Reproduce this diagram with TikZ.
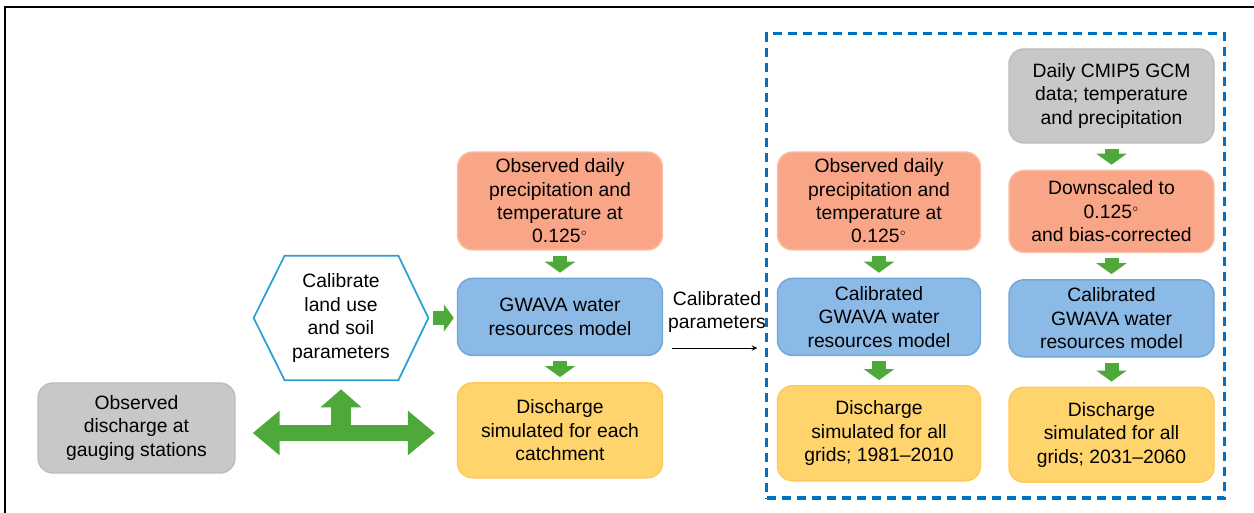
\documentclass[tikz,border=0pt]{standalone}
\usepackage{fontspec}
\setmainfont{Liberation Sans}
\usepackage{amsmath}
\usepackage{xcolor}
\usepackage{tikz}
\usetikzlibrary{arrows.meta,positioning,fit,calc}

\definecolor{obsorange}{RGB}{248,166,135}
\definecolor{obsorangeline}{RGB}{250,192,165}
\definecolor{modelblue}{RGB}{140,186,230}
\definecolor{modelblueline}{RGB}{112,166,218}
\definecolor{simyellow}{RGB}{255,212,108}
\definecolor{simyellowline}{RGB}{255,200,90}
\definecolor{datagray}{RGB}{200,200,200}
\definecolor{datagrayline}{RGB}{188,188,188}
\definecolor{flowgreen}{RGB}{78,168,58}
\definecolor{hexblue}{RGB}{42,160,214}
\definecolor{frameblue}{RGB}{0,112,192}

\newcommand{\degsym}{$^{\scriptscriptstyle\circ}$}

\begin{document}
\begin{tikzpicture}[
    node distance=0.54cm,
    box/.style={rectangle, draw, line width=0.8pt, rounded corners=0.3cm, minimum width=4.06cm, align=center,
        inner sep=0pt, font=\fontsize{11}{13.3}\selectfont},
    obsbox/.style={box, fill=obsorange, draw=obsorangeline, minimum height=1.96cm},
    modelbox/.style={box, fill=modelblue, draw=modelblueline, minimum height=1.54cm},
    simbox/.style={box, fill=simyellow, draw=simyellowline, minimum height=1.9cm},
    graybox/.style={box, fill=datagray, draw=datagrayline, minimum height=1.88cm},
    flow/.style={draw=flowgreen, line width=0.28cm, -{Triangle[width=0.6cm, length=0.22cm]},
        shorten <=0.1cm, shorten >=0.1cm},
    thinarrow/.style={->, >=stealth, thin}
]
\useasboundingbox (0,0) rectangle (25.08,-10.26);

% frame of the page
\draw[line width=1.5pt] (0.1,-10.26) -- (0.1,-0.14) -- (25.08,-0.14);

% Calibration part
\node[graybox, minimum width=3.94cm, minimum height=1.8cm] (obsq) at (2.73,-8.56) {Observed\\discharge at\\gauging stations};

\node[font=\fontsize{11}{13.3}\selectfont, align=center, minimum width=3.48cm, minimum height=2.48cm] (calib) at (6.82,-6.36)
    {Calibrate\\land use\\and soil\\parameters};
\draw[hexblue, line width=1pt] (calib.west) -- ($(calib.north west)+(0.62,0)$) -- ($(calib.north east)+(-0.6,0)$)
    -- (calib.east) -- ($(calib.south east)+(-0.6,0)$) -- ($(calib.south west)+(0.62,0)$) -- cycle;

\node[obsbox, minimum width=4.1cm] (obs1) at (11.2,-4.02) {Observed daily\\precipitation and\\temperature at\\0.125\degsym};
\node[modelbox, minimum width=4.1cm, below=of obs1] (gwava1) {GWAVA water\\resources model};
\node[simbox, minimum width=4.1cm, below=0.52cm of gwava1] (sim1) {Discharge\\simulated for each\\catchment};

\node[font=\fontsize{11}{13.3}\selectfont, align=center, inner sep=0pt] (calpar) at (14.34,-6.24) {Calibrated\\parameters};

% Present and future part
\node[obsbox] (obs2) at (17.58,-4.02) {Observed daily\\precipitation and\\temperature at\\0.125\degsym};
\node[modelbox, below=of obs2] (gwava2) {Calibrated\\GWAVA water\\resources model};
\node[simbox, below=0.58cm of gwava2] (sim2) {Discharge\\simulated for all\\grids; 1981--2010};

\node[graybox, minimum width=4.1cm] (gcm) at (22.23,-1.92) {Daily CMIP5 GCM\\data; temperature\\and precipitation};
\node[obsbox, minimum width=4.1cm, minimum height=1.64cm, below=0.52cm of gcm] (down) {Downscaled to\\0.125\degsym\\and bias-corrected};
\node[modelbox, minimum width=4.1cm, below=0.52cm of down] (gwava3) {Calibrated\\GWAVA water\\resources model};
\node[simbox, minimum width=4.1cm, below=0.58cm of gwava3] (sim3) {Discharge\\simulated for all\\grids; 2031--2060};

\node[draw=frameblue, line width=1.8pt, dash pattern=on 0.18cm off 0.12cm, inner xsep=0.2cm, inner ysep=0.3cm,
    fit=(obs2)(gcm)(sim2)(sim3)] (future) {};

% Arrows
\draw[flow, line width=0.32cm, {Triangle[width=0.86cm, length=0.54cm]}-{Triangle[width=0.86cm, length=0.54cm]},
    shorten <=0.34cm, shorten >=0.44cm] ([yshift=-0.1cm]obsq.east) -- ([yshift=-0.1cm]obsq.east -| sim1.west);
\draw[flow, line width=0.4cm, -{Triangle[width=0.8cm, length=0.36cm]}, shorten <=0cm, shorten >=0.18cm]
    ([yshift=-0.1cm]obsq.east -| calib.south) -- (calib.south);
\draw[flow, -{Triangle[width=0.54cm, length=0.2cm]}, shorten <=0.1cm, shorten >=0.06cm] (calib.east) -- (calib.east -| gwava1.west);

\draw[flow] (obs1) -- (gwava1);
\draw[flow] (gwava1) -- (sim1);
\draw[thinarrow, shorten <=0.08cm, shorten >=0.18cm] ([yshift=-0.3cm]calpar.south west) -- ([yshift=-0.3cm]calpar.south east);

\draw[flow] (obs2) -- (gwava2);
\draw[flow] (gwava2) -- (sim2);
\draw[flow] (gcm) -- (down);
\draw[flow] (down) -- (gwava3);
\draw[flow] (gwava3) -- (sim3);

\end{tikzpicture}
\end{document}
